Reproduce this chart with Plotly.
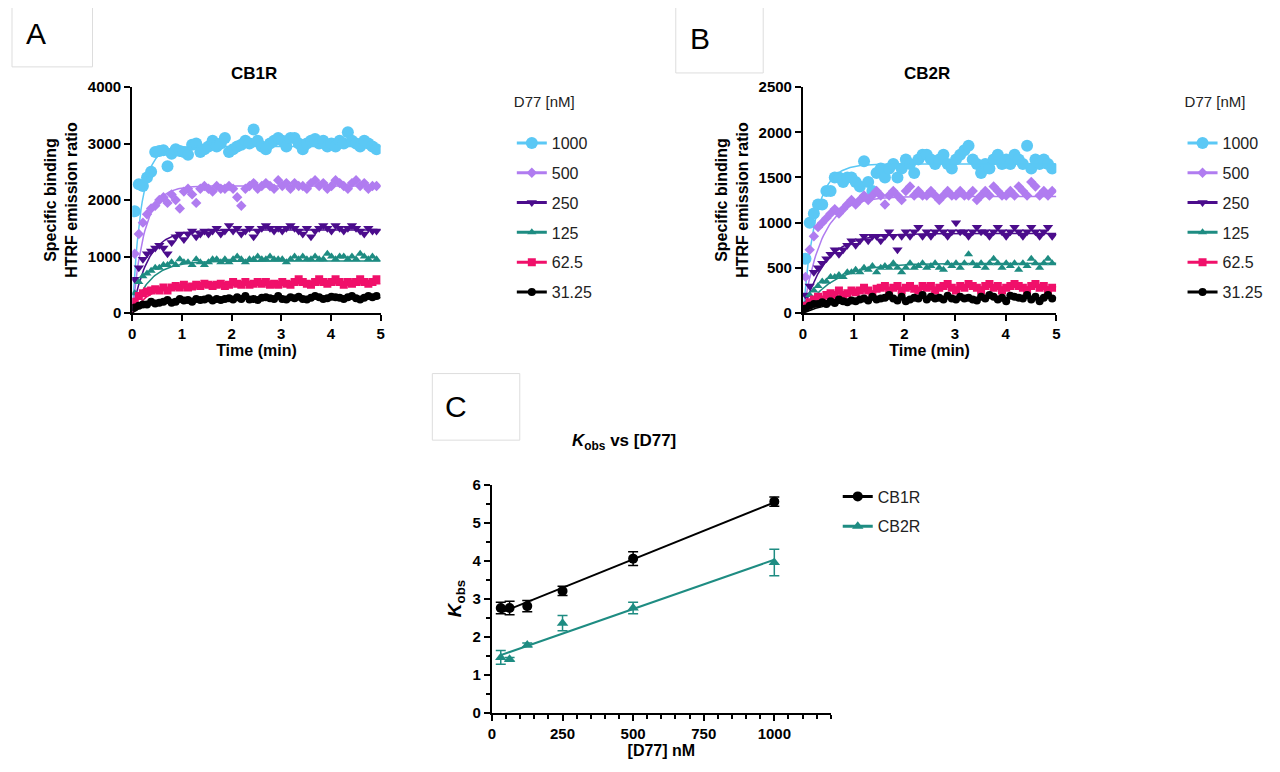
import numpy as np
import plotly.graph_objects as go

# ---- data ----
conc_labels = ["1000", "500", "250", "125", "62.5", "31.25"]
conc_nm = [31.25, 62.5, 125, 250, 500, 1000]

cb1_1000 = [1800, 2280, 2250, 2400, 2500, 2850, 2870, 2880, 2600, 2820, 2900, 2870, 2850, 2800, 2980,
            3000, 2850, 2900, 2950, 3050, 2950, 3000, 3100, 2850, 2900, 2950, 2980, 3050, 3000, 3250,
            3050, 2950, 2900, 3000, 3050, 3100, 3050, 2950, 3100, 3100, 3000, 2900, 3000, 3050, 3080,
            3000, 3050, 2950, 3000, 2950, 3050, 3000, 3200, 3050, 3000, 2950, 3050, 3000, 2950, 2900]
cb1_500 = [1050, 1400, 1600, 1750, 1850, 1900, 2000, 2050, 1950, 2100, 2000, 1850, 2150, 2200, 2100,
           1950, 2200, 2250, 2200, 2150, 2250, 2200, 2200, 2250, 2200, 2050, 1900, 2200, 2250, 2300,
           2200, 2250, 2300, 2250, 2200, 2350, 2250, 2300, 2200, 2300, 2250, 2250, 2200, 2300, 2350,
           2250, 2300, 2200, 2250, 2350, 2300, 2250, 2200, 2300, 2350, 2250, 2300, 2200, 2250, 2250]
cb1_250 = [600, 800, 950, 1050, 1100, 1150, 1200, 1150, 1050, 1250, 1350, 1400, 1300, 1400, 1450,
           1350, 1400, 1450, 1400, 1450, 1500, 1400, 1450, 1550, 1450, 1500, 1400, 1450, 1500, 1350,
           1450, 1500, 1550, 1500, 1450, 1500, 1450, 1500, 1550, 1500, 1450, 1400, 1500, 1350, 1450,
           1500, 1550, 1500, 1450, 1550, 1500, 1450, 1500, 1550, 1500, 1450, 1400, 1500, 1450, 1450]
cb1_125 = [350, 550, 650, 700, 750, 800, 800, 850, 850, 900, 850, 950, 900, 900, 850,
           950, 900, 850, 900, 950, 950, 900, 950, 900, 950, 1000, 950, 900, 950, 950,
           1000, 950, 950, 1000, 950, 950, 950, 900, 950, 1000, 950, 1000, 950, 950, 1000,
           950, 950, 1050, 1000, 950, 1000, 1000, 950, 1000, 950, 1050, 1000, 950, 1000, 950]
cb1_62 = [200, 300, 350, 380, 400, 420, 400, 450, 400, 450, 480, 450, 500, 450, 470,
          500, 480, 520, 500, 480, 500, 520, 480, 500, 550, 520, 500, 550, 500, 520,
          550, 520, 550, 500, 520, 500, 550, 520, 500, 550, 600, 550, 520, 500, 550,
          600, 550, 520, 550, 600, 550, 500, 550, 520, 550, 600, 550, 520, 550, 600]
cb1_31 = [100, 130, 150, 150, 200, 170, 180, 200, 230, 180, 200, 250, 220, 230, 200,
          250, 230, 240, 260, 220, 250, 230, 250, 260, 240, 280, 250, 300, 240, 250,
          230, 270, 280, 260, 250, 300, 250, 240, 280, 260, 290, 250, 240, 270, 300,
          280, 250, 260, 290, 280, 270, 250, 280, 300, 260, 240, 270, 300, 280, 300]

cb2_1000 = [600, 1000, 1100, 1200, 1200, 1350, 1350, 1500, 1500, 1450, 1500, 1500, 1450, 1400, 1680,
            1450, 1350, 1550, 1600, 1500, 1600, 1650, 1500, 1600, 1700, 1650, 1550, 1700, 1750, 1750,
            1700, 1650, 1700, 1750, 1650, 1600, 1700, 1750, 1800, 1850, 1700, 1650, 1550, 1650, 1600,
            1700, 1750, 1650, 1700, 1650, 1750, 1700, 1650, 1850, 1600, 1700, 1650, 1700, 1650, 1600]
cb2_500 = [400, 700, 850, 950, 1000, 1050, 1100, 1150, 1100, 1150, 1200, 1250, 1200, 1250, 1300,
           1250, 1300, 1350, 1300, 1200, 1300, 1350, 1300, 1250, 1350, 1400, 1300, 1350, 1300, 1300,
           1350, 1300, 1250, 1300, 1350, 1300, 1300, 1350, 1300, 1300, 1350, 1250, 1300, 1350, 1300,
           1400, 1350, 1300, 1300, 1350, 1300, 1400, 1350, 1300, 1450, 1400, 1300, 1350, 1300, 1350]
cb2_250 = [200, 300, 450, 500, 550, 600, 650, 700, 650, 700, 750, 800, 750, 800, 850,
           800, 850, 850, 800, 850, 900, 850, 700, 850, 900, 850, 900, 950, 850, 900,
           850, 900, 950, 900, 850, 900, 1000, 900, 900, 850, 900, 950, 900, 900, 850,
           900, 950, 900, 850, 900, 950, 900, 850, 900, 950, 900, 850, 900, 950, 850]
cb2_125 = [100, 200, 250, 300, 350, 350, 400, 400, 420, 400, 450, 450, 480, 450, 500,
           480, 520, 450, 500, 520, 500, 550, 500, 450, 500, 550, 500, 520, 550, 500,
           520, 550, 500, 480, 550, 520, 550, 500, 550, 650, 550, 520, 550, 500, 550,
           600, 550, 500, 550, 520, 550, 480, 550, 520, 600, 550, 500, 550, 600, 550]
cb2_62 = [80, 120, 150, 180, 150, 200, 220, 200, 250, 200, 220, 250, 230, 250, 280,
          250, 200, 270, 280, 300, 250, 280, 300, 250, 280, 300, 270, 250, 300, 280,
          300, 250, 280, 300, 320, 280, 250, 300, 280, 320, 300, 280, 250, 300, 320,
          280, 300, 250, 280, 300, 320, 300, 280, 250, 300, 320, 280, 300, 250, 280]
cb2_31 = [50, 80, 100, 100, 120, 100, 130, 110, 150, 130, 120, 140, 130, 150, 160,
          140, 180, 150, 160, 170, 200, 160, 140, 180, 130, 150, 170, 160, 200, 150,
          180, 160, 170, 150, 190, 160, 150, 180, 160, 170, 150, 140, 180, 160, 200,
          180, 150, 170, 130, 190, 180, 170, 160, 200, 150, 180, 130, 170, 200, 160]

# one-phase association fit parameters (plateau, k)
cb1_plateau = [2950, 2250, 1470, 920, 520, 270]
cb1_k = [5.5, 4.1, 3.2, 2.8, 2.75, 2.75]
cb2_plateau = [1650, 1290, 880, 550, 290, 170]
cb2_k = [4.0, 2.7, 2.3, 1.75, 1.4, 1.45]

kobs_cb1 = [2.75, 2.75, 2.8, 3.2, 4.05, 5.55]
kobs_cb1_err = [0.15, 0.18, 0.15, 0.12, 0.18, 0.12]
kobs_cb2 = [1.45, 1.4, 1.78, 2.35, 2.75, 3.95]
kobs_cb2_err = [0.18, 0.05, 0.05, 0.2, 0.15, 0.35]

colors = ["#5BC8F5", "#B07CF0", "#4B0C8C", "#1E8C82", "#F0106A", "#000000"]
symbols = ["circle", "diamond", "triangle-down", "triangle-up", "square", "circle"]
sizes = [12, 8, 9, 8, 8, 8]

FONT = "Liberation Sans"
W, H = 1264, 756


# map reference pixel positions to paper fractions (corrected for how the page renders)
def px(x):
    return (x - 9) / W


def py(y):
    fy = (y - 16.6) / 0.969
    return 1 - (fy - 2) / H


fig = go.Figure()

t_fit = np.linspace(0, 5, 200)
panels = [
    ("x", "y", "legend", [cb1_1000, cb1_500, cb1_250, cb1_125, cb1_62, cb1_31], cb1_plateau, cb1_k),
    ("x2", "y2", "legend2", [cb2_1000, cb2_500, cb2_250, cb2_125, cb2_62, cb2_31], cb2_plateau, cb2_k),
]
for xa, ya, lg, series, plat, kk in panels:
    for i, vals in enumerate(series):
        t = 0.05 + 0.0825 * np.arange(len(vals))
        fig.add_trace(go.Scatter(
            x=t, y=vals, mode="markers", xaxis=xa, yaxis=ya,
            marker=dict(color=colors[i], symbol=symbols[i], size=sizes[i]),
            name=conc_labels[i], showlegend=False))
        fig.add_trace(go.Scatter(
            x=t_fit, y=plat[i] * (1 - np.exp(-kk[i] * t_fit)), mode="lines",
            xaxis=xa, yaxis=ya, line=dict(color=colors[i], width=1.5),
            name=conc_labels[i], showlegend=False))
        # legend entry
        fig.add_trace(go.Scatter(
            x=[None], y=[None], mode="lines+markers", xaxis=xa, yaxis=ya, legend=lg,
            legendgroup=lg + conc_labels[i],
            line=dict(color=colors[i], width=3),
            marker=dict(color=colors[i], symbol=symbols[i], size=sizes[i]),
            name=conc_labels[i]))

# panel C
for name, vals, err, col, sym in [("CB1R", kobs_cb1, kobs_cb1_err, "#000000", "circle"),
                                  ("CB2R", kobs_cb2, kobs_cb2_err, "#1E8C82", "triangle-up")]:
    slope, icpt = np.polyfit(conc_nm, vals, 1)
    xl = np.array([conc_nm[0], conc_nm[-1]])
    fig.add_trace(go.Scatter(
        x=xl, y=slope * xl + icpt, mode="lines", xaxis="x3", yaxis="y3",
        line=dict(color=col, width=2), showlegend=False))
    fig.add_trace(go.Scatter(
        x=conc_nm, y=vals, mode="markers", xaxis="x3", yaxis="y3",
        marker=dict(color=col, symbol=sym, size=10),
        error_y=dict(type="data", array=err, color=col, thickness=1.5, width=5),
        name=name, showlegend=False))
    fig.add_trace(go.Scatter(
        x=[None], y=[None], mode="lines+markers", xaxis="x3", yaxis="y3", legend="legend3",
        legendgroup="c" + name,
        line=dict(color=col, width=3), marker=dict(color=col, symbol=sym, size=10), name=name))

axis_common = dict(showline=True, linecolor="black", linewidth=2, ticks="outside",
                   tickcolor="black", tickwidth=2, ticklen=6, showgrid=False, zeroline=False,
                   tickfont=dict(family=FONT, size=15, color="black", weight="bold"))
title_font = dict(family=FONT, size=16, color="black")
minor_style = dict(ticks="outside", ticklen=4, tickcolor="black", tickwidth=1.5)


def legend_box(x, y, title=None):
    d = dict(x=px(x), y=py(y), xanchor="left", yanchor="top", tracegroupgap=6,
             itemwidth=30, font=dict(family=FONT, size=16, color="#222"),
             bgcolor="rgba(0,0,0,0)")
    if title:
        d["title"] = dict(text=title + "<br> ", font=dict(family=FONT, size=15, color="#222"))
    return d


fig.update_layout(
    width=W, height=H, margin=dict(l=0, r=0, t=0, b=0),
    paper_bgcolor="white", plot_bgcolor="white",
    font=dict(family=FONT, color="black"),
    xaxis=dict(domain=[px(130), px(380)], range=[0, 5], dtick=1, anchor="y",
               title=dict(text="<b>Time (min)</b>", font=title_font, standoff=4), **axis_common),
    yaxis=dict(domain=[py(312), py(88)], range=[0, 4000], dtick=1000, anchor="x",
               title=dict(text="<b>Specific binding<br>HTRF emission ratio</b>", font=title_font, standoff=6),
               **axis_common),
    xaxis2=dict(domain=[px(805), px(1060)], range=[0, 5], dtick=1, anchor="y2",
                title=dict(text="<b>Time (min)</b>", font=title_font, standoff=4), **axis_common),
    yaxis2=dict(domain=[py(312), py(88)], range=[0, 2500], dtick=500, anchor="x2",
                title=dict(text="<b>Specific binding<br>HTRF emission ratio</b>", font=title_font, standoff=6),
                **axis_common),
    xaxis3=dict(domain=[px(492), px(833)], range=[0, 1200], tickvals=[0, 250, 500, 750, 1000], anchor="y3",
                minor=dict(dtick=50, **minor_style),
                title=dict(text="<b>[D77] nM</b>", font=title_font, standoff=4), **axis_common),
    yaxis3=dict(domain=[py(708), py(482)], range=[0, 6], dtick=1, anchor="x3",
                minor=dict(dtick=0.5, **minor_style),
                title=dict(text="<b><i>K</i><sub>obs</sub></b>", font=dict(family=FONT, size=19, color="black"),
                           standoff=6), **axis_common),
    legend=legend_box(512, 88, "D77 [nM]"),
    legend2=legend_box(1187, 88, "D77 [nM]"),
    legend3=legend_box(840, 477),
)

annotations = [
    dict(text="<b>CB1R</b>", x=px(253), y=py(75), font=dict(family=FONT, size=17)),
    dict(text="<b>CB2R</b>", x=px(930), y=py(75), font=dict(family=FONT, size=17)),
    dict(text="<b><i>K</i><sub>obs</sub> vs [D77]</b>", x=px(625), y=py(440),
         font=dict(family=FONT, size=17)),
]
for a in annotations:
    a.update(xref="paper", yref="paper", showarrow=False, xanchor="center", yanchor="middle")
for lab, x0, y0, x1, y1 in [("A", 9, 2, 90, 68), ("B", 677, 6, 765, 74), ("C", 432, 372, 520, 438)]:
    fig.add_shape(type="rect", xref="paper", yref="paper",
                  x0=px(x0), x1=px(x1), y0=py(y0), y1=py(y1),
                  line=dict(color="#DDDDDD", width=1))
    annotations.append(dict(text=lab, xref="paper", yref="paper", showarrow=False,
                            x=px(x0 + 24), y=py((y0 + y1) / 2), xanchor="center", yanchor="middle",
                            font=dict(family=FONT, size=30, color="black")))
fig.update_layout(annotations=annotations)

fig.write_html("out.html")
